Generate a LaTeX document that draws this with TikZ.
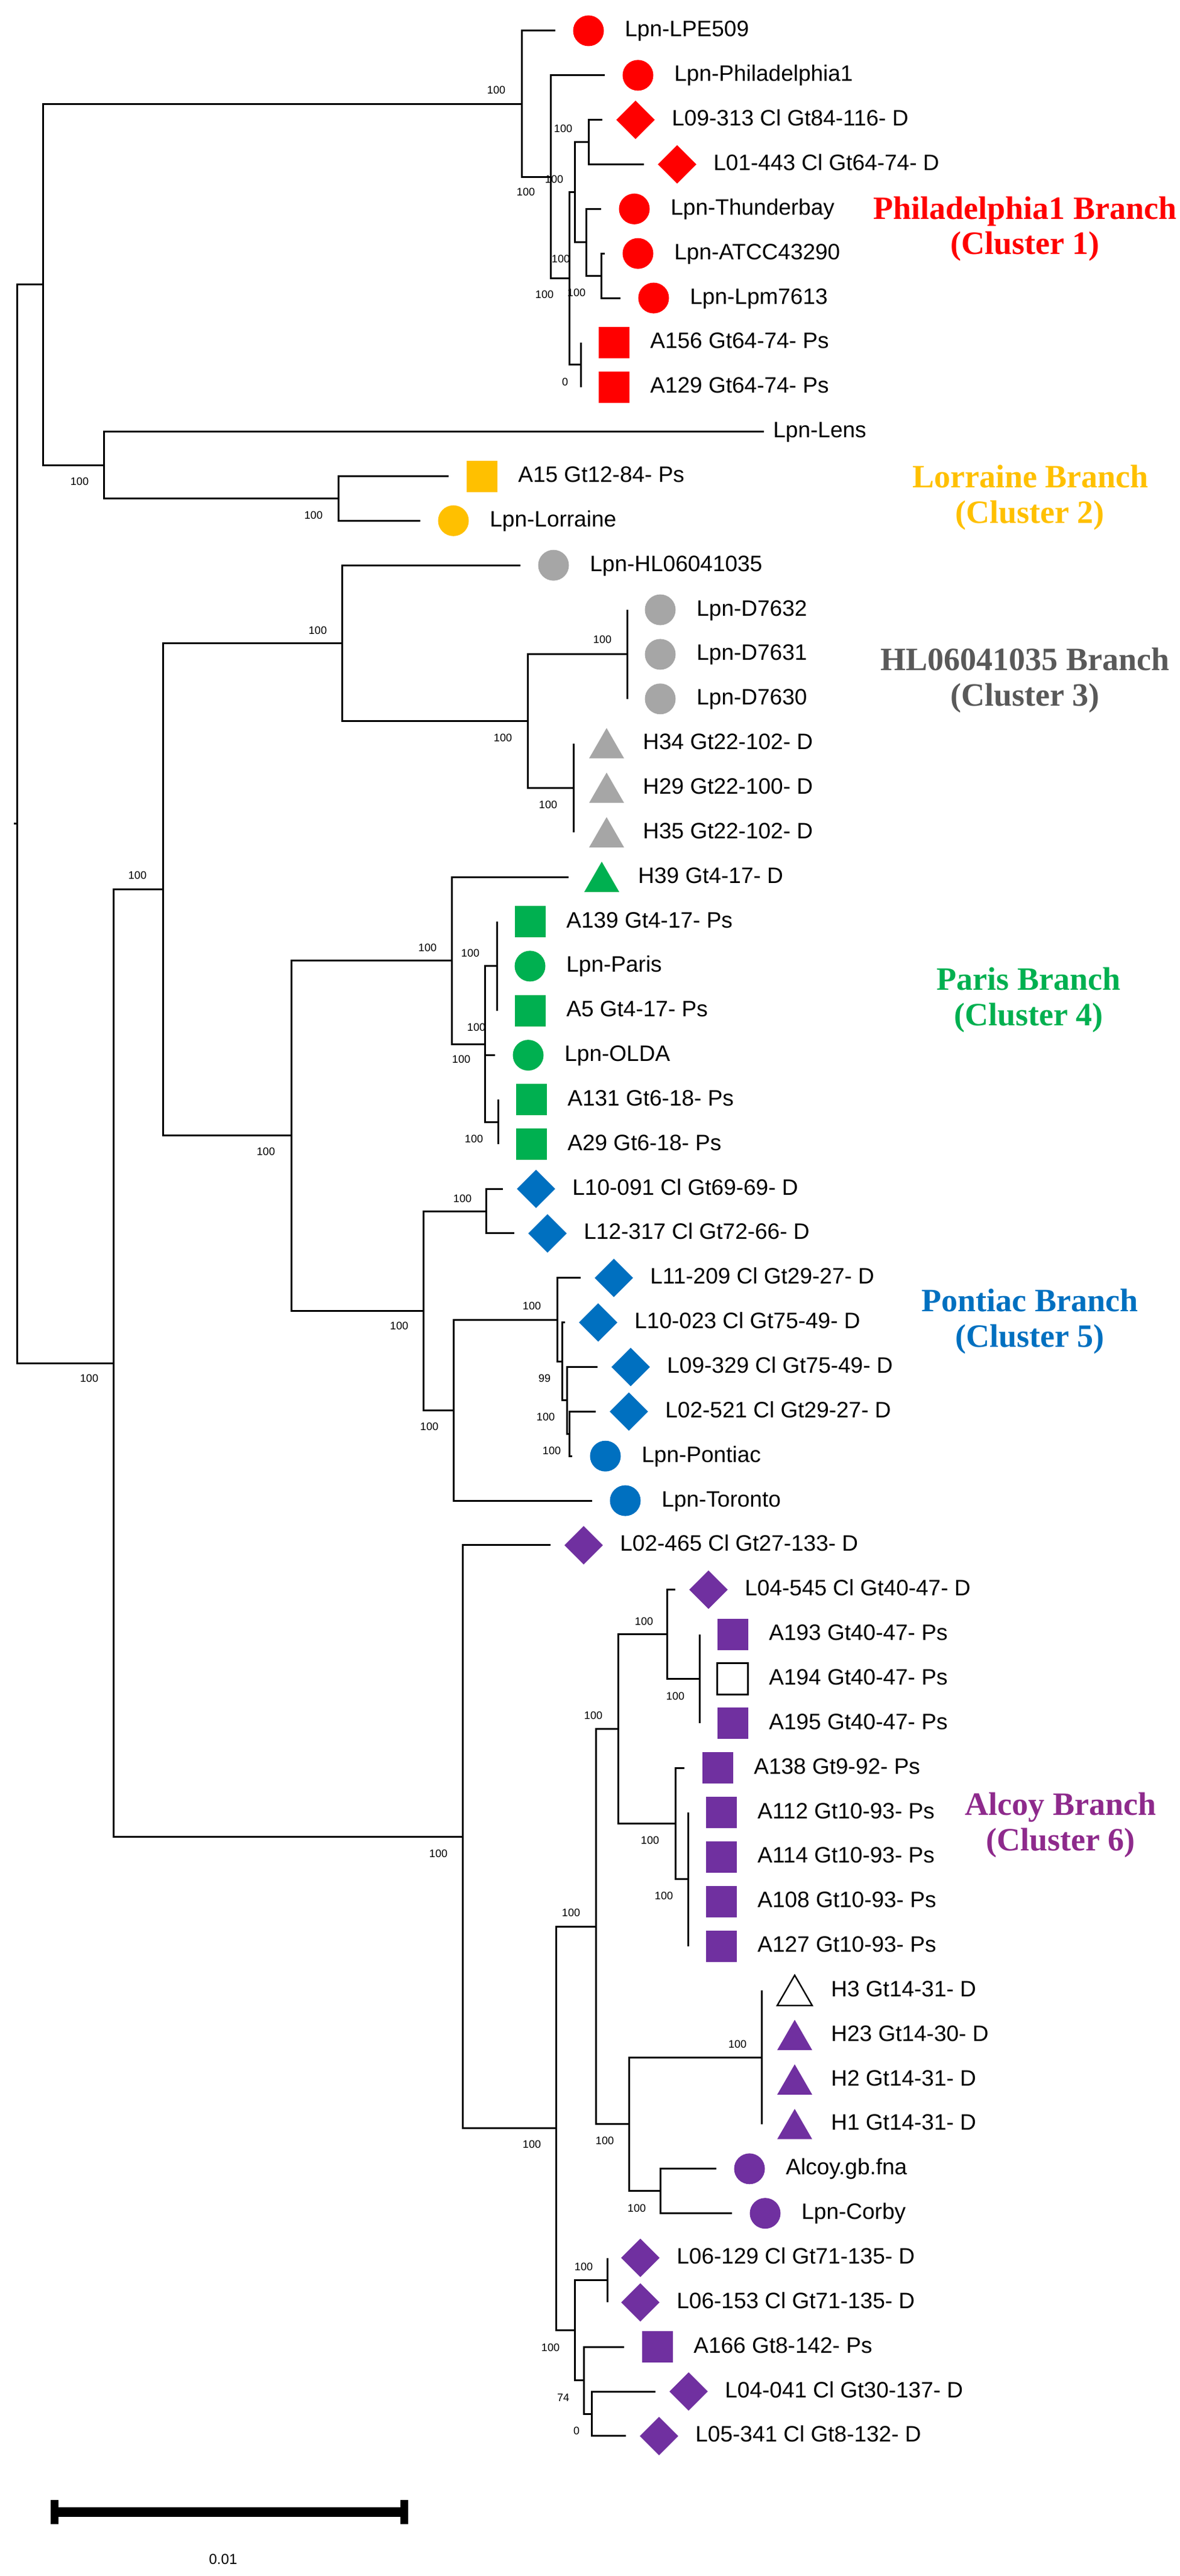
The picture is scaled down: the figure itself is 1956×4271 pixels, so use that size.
\documentclass[tikz,border=0pt]{standalone}
\usepackage{fontspec}
\setmainfont{Liberation Sans}
\newfontfamily\clfont{Liberation Serif}
\usetikzlibrary{shapes.geometric,calc}
\definecolor{cred}{HTML}{FF0000}
\definecolor{cgold}{HTML}{FFC000}
\definecolor{cgray}{HTML}{A6A6A6}
\definecolor{cgraytxt}{HTML}{595959}
\definecolor{cgreen}{HTML}{00B050}
\definecolor{cblue}{HTML}{0070C0}
\definecolor{cpurp}{HTML}{7030A0}
\definecolor{cpurptxt}{HTML}{8E2A8C}
\newcommand\leaf[5]{%
  \coordinate (l#1) at (#2,#3);
  \node[#4] (m#1) at ($(l#1)+(55,0)$) {};
  \node[lbl] (t#1) at ($(l#1)+(115,10)$) {#5};}
\newcommand\edges[2]{\foreach \c in {#2} {\draw[brl] (#1) |- (\c);}}
\begin{document}
\begin{tikzpicture}[x=0.5pt,y=-0.5pt,
  brl/.style={line width=1.5pt,black},
  circ/.style={circle,inner sep=0pt,minimum size=25.5pt,draw=none},
  sq/.style={rectangle,inner sep=0pt,minimum width=25.5pt,minimum height=26pt,draw=none},
  dia/.style={diamond,inner sep=0pt,minimum width=32pt,minimum height=32pt,draw=none},
  tri/.style={regular polygon,regular polygon sides=3,inner sep=0pt,minimum size=33.5pt,yshift=-4pt,draw=none},
  wht/.style={fill=white,draw=black,line width=1.2pt},
  lbl/.style={anchor=base west,inner sep=0pt,font=\fontsize{18.5pt}{20pt}\selectfont},
  bs/.style={inner sep=0pt,anchor=center,font=\fontsize{9pt}{10pt}\selectfont},
  cl/.style={anchor=base,inner sep=0pt,font={\clfont\bfseries\fontsize{27pt}{31pt}\selectfont}}]
\useasboundingbox (0,0) rectangle (1956,4271);

% leaves
\leaf{0}{921}{51.0}{circ,fill=cred}{Lpn-LPE509}
\leaf{1}{1003}{124.85}{circ,fill=cred}{Lpn-Philadelphia1}
\leaf{2}{999}{198.7}{dia,fill=cred}{L09-313 Cl Gt84-116- D}
\leaf{3}{1068}{272.55}{dia,fill=cred}{L01-443 Cl Gt64-74- D}
\leaf{4}{997}{346.4}{circ,fill=cred}{Lpn-Thunderbay}
\leaf{5}{1003}{420.25}{circ,fill=cred}{Lpn-ATCC43290}
\leaf{6}{1029}{494.1}{circ,fill=cred}{Lpn-Lpm7613}
\leaf{7}{963}{567.95}{sq,fill=cred}{A156 Gt64-74- Ps}
\leaf{8}{963}{641.8}{sq,fill=cred}{A129 Gt64-74- Ps}
\coordinate (l9) at (1267,715.65);
\node[lbl] (t9) at ($(l9)+(15,10)$) {Lpn-Lens};
\leaf{10}{744}{789.5}{sq,fill=cgold}{A15 Gt12-84- Ps}
\leaf{11}{697}{863.35}{circ,fill=cgold}{Lpn-Lorraine}
\leaf{12}{863}{937.2}{circ,fill=cgray}{Lpn-HL06041035}
\leaf{13}{1040}{1011.05}{circ,fill=cgray}{Lpn-D7632}
\leaf{14}{1040}{1084.9}{circ,fill=cgray}{Lpn-D7631}
\leaf{15}{1040}{1158.75}{circ,fill=cgray}{Lpn-D7630}
\leaf{16}{951}{1232.6}{tri,fill=cgray}{H34 Gt22-102- D}
\leaf{17}{951}{1306.45}{tri,fill=cgray}{H29 Gt22-100- D}
\leaf{18}{951}{1380.3}{tri,fill=cgray}{H35 Gt22-102- D}
\leaf{19}{943}{1454.15}{tri,fill=cgreen}{H39 Gt4-17- D}
\leaf{20}{824}{1528.0}{sq,fill=cgreen}{A139 Gt4-17- Ps}
\leaf{21}{824}{1601.85}{circ,fill=cgreen}{Lpn-Paris}
\leaf{22}{824}{1675.7}{sq,fill=cgreen}{A5 Gt4-17- Ps}
\leaf{23}{821}{1749.55}{circ,fill=cgreen}{Lpn-OLDA}
\leaf{24}{826}{1823.4}{sq,fill=cgreen}{A131 Gt6-18- Ps}
\leaf{25}{826}{1897.25}{sq,fill=cgreen}{A29 Gt6-18- Ps}
\leaf{26}{834}{1971.1}{dia,fill=cblue}{L10-091 Cl Gt69-69- D}
\leaf{27}{853}{2044.95}{dia,fill=cblue}{L12-317 Cl Gt72-66- D}
\leaf{28}{963}{2118.8}{dia,fill=cblue}{L11-209 Cl Gt29-27- D}
\leaf{29}{937}{2192.65}{dia,fill=cblue}{L10-023 Cl Gt75-49- D}
\leaf{30}{991}{2266.5}{dia,fill=cblue}{L09-329 Cl Gt75-49- D}
\leaf{31}{988}{2340.35}{dia,fill=cblue}{L02-521 Cl Gt29-27- D}
\leaf{32}{949}{2414.2}{circ,fill=cblue}{Lpn-Pontiac}
\leaf{33}{982}{2488.05}{circ,fill=cblue}{Lpn-Toronto}
\leaf{34}{913}{2561.9}{dia,fill=cpurp}{L02-465 Cl Gt27-133- D}
\leaf{35}{1120}{2635.75}{dia,fill=cpurp}{L04-545 Cl Gt40-47- D}
\leaf{36}{1160}{2709.6}{sq,fill=cpurp}{A193 Gt40-47- Ps}
\leaf{37}{1160}{2783.45}{sq,wht}{A194 Gt40-47- Ps}
\leaf{38}{1160}{2857.3}{sq,fill=cpurp}{A195 Gt40-47- Ps}
\leaf{39}{1135}{2931.15}{sq,fill=cpurp}{A138 Gt9-92- Ps}
\leaf{40}{1141}{3005.0}{sq,fill=cpurp}{A112 Gt10-93- Ps}
\leaf{41}{1141}{3078.85}{sq,fill=cpurp}{A114 Gt10-93- Ps}
\leaf{42}{1141}{3152.7}{sq,fill=cpurp}{A108 Gt10-93- Ps}
\leaf{43}{1141}{3226.55}{sq,fill=cpurp}{A127 Gt10-93- Ps}
\leaf{44}{1263}{3300.4}{tri,wht}{H3 Gt14-31- D}
\leaf{45}{1263}{3374.25}{tri,fill=cpurp}{H23 Gt14-30- D}
\leaf{46}{1263}{3448.1}{tri,fill=cpurp}{H2 Gt14-31- D}
\leaf{47}{1263}{3521.95}{tri,fill=cpurp}{H1 Gt14-31- D}
\leaf{48}{1188}{3595.8}{circ,fill=cpurp}{Alcoy.gb.fna}
\leaf{49}{1214}{3669.65}{circ,fill=cpurp}{Lpn-Corby}
\leaf{50}{1007}{3743.5}{dia,fill=cpurp}{L06-129 Cl Gt71-135- D}
\leaf{51}{1007}{3817.35}{dia,fill=cpurp}{L06-153 Cl Gt71-135- D}
\leaf{52}{1035}{3891.2}{sq,fill=cpurp}{A166 Gt8-142- Ps}
\leaf{53}{1087}{3965.05}{dia,fill=cpurp}{L04-041 Cl Gt30-137- D}
\leaf{54}{1038}{4038.9}{dia,fill=cpurp}{L05-341 Cl Gt8-132- D}

% internal nodes
\coordinate (root) at (28,1365.81);
\coordinate (rootstub) at (23,1365.81);
\coordinate (n71) at (71,471.6);
\coordinate (nA) at (865,172.16);
\coordinate (nB) at (913,293.32);
\coordinate (nC) at (944,461.79);
\coordinate (nD) at (953,318.71);
\coordinate (nE) at (976,235.63);
\coordinate (nF) at (972,401.79);
\coordinate (nG) at (997,457.18);
\coordinate (nH) at (963,604.88);
\coordinate (nL) at (172,771.04);
\coordinate (nLor) at (561,826.43);
\coordinate (nM) at (188,2260.02);
\coordinate (nK) at (270,1474.64);
\coordinate (nHL) at (567,1066.44);
\coordinate (nI) at (875,1195.68);
\coordinate (nDs) at (1040,1084.9);
\coordinate (nJ) at (951,1306.45);
\coordinate (nN) at (483,1882.83);
\coordinate (nO) at (749,1592.62);
\coordinate (nP) at (804,1731.09);
\coordinate (nQ) at (824,1601.85);
\coordinate (nR) at (826,1860.33);
\coordinate (nS) at (702,2173.03);
\coordinate (nT) at (806,2008.03);
\coordinate (nU) at (752,2338.04);
\coordinate (nV) at (924,2188.04);
\coordinate (nW) at (932,2257.27);
\coordinate (nX) at (940,2321.89);
\coordinate (nY) at (944,2377.28);
\coordinate (nZ) at (767,3045.39);
\coordinate (nAA) at (922,3528.88);
\coordinate (nAB) at (988,3194.24);
\coordinate (nAC) at (1025,2866.53);
\coordinate (nAD) at (1106,2709.6);
\coordinate (nAE) at (1160,2783.45);
\coordinate (nAF) at (1120,3023.46);
\coordinate (nAG) at (1141,3115.78);
\coordinate (nAH) at (1043,3521.95);
\coordinate (nAI) at (1263,3411.18);
\coordinate (nAJ) at (1095,3632.73);
\coordinate (nAK) at (953,3863.51);
\coordinate (nAL) at (1007,3780.43);
\coordinate (nAM) at (968,3946.59);
\coordinate (nAN) at (981,4001.98);

% branches
\draw[brl] (rootstub) -- (root);
\edges{root}{n71,nM}
\edges{n71}{nA,nL}
\edges{nA}{l0,nB}
\edges{nB}{l1,nC}
\edges{nC}{nD,nH}
\edges{nD}{nE,nF}
\edges{nE}{l2,l3}
\edges{nF}{l4,nG}
\edges{nG}{l5,l6}
\edges{nH}{l7,l8}
\edges{nL}{l9,nLor}
\edges{nLor}{l10,l11}
\edges{nM}{nK,nZ}
\edges{nK}{nHL,nN}
\edges{nHL}{l12,nI}
\edges{nI}{nDs,nJ}
\edges{nDs}{l13,l14,l15}
\edges{nJ}{l16,l17,l18}
\edges{nN}{nO,nS}
\edges{nO}{l19,nP}
\edges{nP}{nQ,l23,nR}
\edges{nQ}{l20,l21,l22}
\edges{nR}{l24,l25}
\edges{nS}{nT,nU}
\edges{nT}{l26,l27}
\edges{nU}{nV,l33}
\edges{nV}{l28,nW}
\edges{nW}{l29,nX}
\edges{nX}{l30,nY}
\edges{nY}{l31,l32}
\edges{nZ}{l34,nAA}
\edges{nAA}{nAB,nAK}
\edges{nAB}{nAC,nAH}
\edges{nAC}{nAD,nAF}
\edges{nAD}{l35,nAE}
\edges{nAE}{l36,l37,l38}
\edges{nAF}{l39,nAG}
\edges{nAG}{l40,l41,l42,l43}
\edges{nAH}{nAI,nAJ}
\edges{nAI}{l44,l45,l46,l47}
\edges{nAJ}{l48,l49}
\edges{nAK}{nAL,nAM}
\edges{nAL}{l50,l51}
\edges{nAM}{l52,nAN}
\edges{nAN}{l53,l54}

% bootstrap values
\node[bs] (bA) at (823,149) {100};
\node[bs] (bE) at (934,213) {100};
\node[bs] (bD) at (919,297) {100};
\node[bs] (bB) at (872,318) {100};
\node[bs] (bF) at (930,429) {100};
\node[bs] (bC) at (903,488) {100};
\node[bs] (bG) at (956,485) {100};
\node[bs] (bH) at (937,633) {0};
\node[bs] (bL) at (132,798) {100};
\node[bs] (bLor) at (520,854) {100};
\node[bs] (bHL) at (527,1045) {100};
\node[bs] (bDs) at (999,1060) {100};
\node[bs] (bI) at (834,1223) {100};
\node[bs] (bJ) at (909,1334) {100};
\node[bs] (bK) at (228,1451) {100};
\node[bs] (bN) at (441,1909) {100};
\node[bs] (bO) at (709,1571) {100};
\node[bs] (bQ) at (780,1580) {100};
\node[bs] (bP) at (790,1703) {100};
\node[bs] (bP2) at (765,1756) {100};
\node[bs] (bR) at (786,1888) {100};
\node[bs] (bT) at (767,1987) {100};
\node[bs] (bS) at (662,2198) {100};
\node[bs] (bV) at (882,2165) {100};
\node[bs] (bW) at (903,2285) {99};
\node[bs] (bX) at (905,2349) {100};
\node[bs] (bY) at (915,2405) {100};
\node[bs] (bU) at (712,2365) {100};
\node[bs] (bM) at (148,2285) {100};
\node[bs] (bZ) at (727,3073) {100};
\node[bs] (bAC) at (984,2844) {100};
\node[bs] (bAD) at (1068,2688) {100};
\node[bs] (bAE) at (1120,2812) {100};
\node[bs] (bAF) at (1078,3051) {100};
\node[bs] (bAG) at (1101,3143) {100};
\node[bs] (bAB) at (947,3171) {100};
\node[bs] (bAI) at (1223,3389) {100};
\node[bs] (bAA) at (882,3555) {100};
\node[bs] (bAH) at (1003,3549) {100};
\node[bs] (bAJ) at (1056,3661) {100};
\node[bs] (bAL) at (968,3758) {100};
\node[bs] (bAK) at (913,3892) {100};
\node[bs] (bAM) at (934,3975) {74};
\node[bs] (bAN) at (956,4030) {0};

% cluster labels
\node[cl,text=cred] (c1a) at (1700,363) {Philadelphia1 Branch};
\node[cl,text=cred] (c1b) at (1700,421) {(Cluster 1)};
\node[cl,text=cgold] (c2a) at (1709,808) {Lorraine Branch};
\node[cl,text=cgold] (c2b) at (1708,867) {(Cluster 2)};
\node[cl,text=cgraytxt] (c3a) at (1700,1111) {HL06041035 Branch};
\node[cl,text=cgraytxt] (c3b) at (1700,1170) {(Cluster 3)};
\node[cl,text=cgreen] (c4a) at (1706,1641) {Paris Branch};
\node[cl,text=cgreen] (c4b) at (1706,1700) {(Cluster 4)};
\node[cl,text=cblue] (c5a) at (1708,2174) {Pontiac Branch};
\node[cl,text=cblue] (c5b) at (1708,2233) {(Cluster 5)};
\node[cl,text=cpurptxt] (c6a) at (1759,3009) {Alcoy Branch};
\node[cl,text=cpurptxt] (c6b) at (1759,3068) {(Cluster 6)};

% scale bar
\coordinate (sb1) at (90,4165);
\coordinate (sb2) at (670,4165);
\draw[line width=8pt] (sb1) -- (sb2);
\draw[line width=6.5pt] ($(sb1)+(0,-20)$) -- ($(sb1)+(0,20)$);
\draw[line width=6.5pt] ($(sb2)+(0,-20)$) -- ($(sb2)+(0,20)$);
\node[inner sep=0pt,font=\fontsize{12pt}{14pt}\selectfont] (sbl) at (370,4243) {0.01};
\end{tikzpicture}
\end{document}
